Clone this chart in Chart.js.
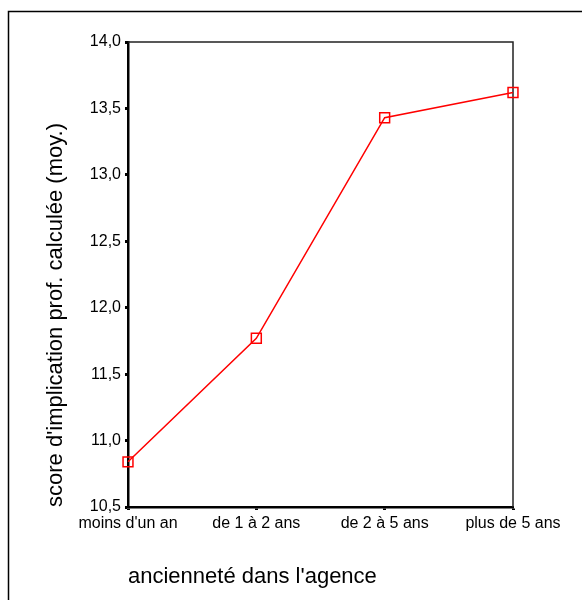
<!DOCTYPE html>
<html>
<head>
<meta charset="utf-8">
<script src="https://cdn.jsdelivr.net/npm/chart.js@4.4.0/dist/chart.umd.min.js"></script>
<style>
  html, body { margin: 0; padding: 0; background: #fff; }
  canvas { display: block; }
</style>
</head>
<body>
<canvas id="chart" width="582" height="600"></canvas>
<script>
const categories = ["moins d'un an", "de 1 à 2 ans", "de 2 à 5 ans", "plus de 5 ans"];
const meanScores = [10.84, 11.77, 13.43, 13.62];
const yTicks = [10.5, 11.0, 11.5, 12.0, 12.5, 13.0, 13.5, 14.0];
const xTitle = "ancienneté dans l'agence";
const yTitle = "score d'implication prof. calculée (moy.)";

const FONT = "'Liberation Sans', Arial, sans-serif";

// outer frame (top + left only) and the top/right edges of the plot box
const framePlugin = {
  id: 'frame',
  beforeDraw(chart) {
    const ctx = chart.ctx;
    ctx.save();
    ctx.fillStyle = '#fff';
    ctx.fillRect(0, 0, chart.width, chart.height);
    ctx.strokeStyle = '#000';
    ctx.lineWidth = 1.5;
    ctx.beginPath();
    ctx.moveTo(8.5, chart.height);
    ctx.lineTo(8.5, 11.5);
    ctx.lineTo(chart.width, 11.5);
    ctx.stroke();
    ctx.restore();
  },
  beforeDatasetsDraw(chart) {
    const a = chart.chartArea;
    const ctx = chart.ctx;
    ctx.save();
    ctx.strokeStyle = '#222';
    ctx.lineWidth = 1.5;
    ctx.beginPath();
    ctx.moveTo(a.left, a.top);
    ctx.lineTo(a.right, a.top);
    ctx.lineTo(a.right, a.bottom);
    ctx.stroke();
    ctx.restore();
  }
};

new Chart(document.getElementById('chart'), {
  type: 'line',
  data: {
    labels: categories,
    datasets: [{
      data: meanScores,
      borderColor: '#ff0000',
      borderWidth: 1.5,
      pointStyle: 'rect',
      pointRadius: 7,
      pointBorderWidth: 1.5,
      pointBorderColor: '#ff0000',
      pointBackgroundColor: 'rgba(0,0,0,0)',
      tension: 0,
      clip: false
    }]
  },
  options: {
    responsive: false,
    animation: false,
    devicePixelRatio: 1,
    layout: { padding: { top: 42, right: 69, left: 38, bottom: 0 } },
    plugins: {
      legend: { display: false },
      tooltip: { enabled: false }
    },
    scales: {
      x: {
        offset: false,
        afterFit: s => { s.height = 93; },
        border: { display: true, color: '#000', width: 2.5 },
        grid: { drawOnChartArea: false, drawTicks: true, tickLength: 3, tickWidth: 3, tickColor: '#000' },
        ticks: { color: '#000', font: { family: FONT, size: 16 }, padding: 4, autoSkip: false, maxRotation: 0 },
        title: { display: true, text: xTitle, align: 'start', color: '#000',
                 font: { family: FONT, size: 22, lineHeight: 1.2 }, padding: { top: 0, bottom: 10 } }
      },
      y: {
        min: yTicks[0],
        max: yTicks[yTicks.length - 1],
        afterFit: s => { s.width = 90; },
        afterBuildTicks: s => { s.ticks = yTicks.map(v => ({ value: v })); },
        border: { display: true, color: '#000', width: 2.5 },
        grid: { drawOnChartArea: false, drawTicks: true, tickLength: 3, tickWidth: 3, tickColor: '#000' },
        ticks: { color: '#000', font: { family: FONT, size: 16 }, padding: 4,
                 callback: v => v.toFixed(1).replace('.', ',') },
        title: { display: true, text: yTitle, align: 'start', color: '#000',
                 font: { family: FONT, size: 22, lineHeight: 1.2 }, padding: { top: 5, bottom: 0 } }
      }
    }
  },
  plugins: [framePlugin]
});
</script>
</body>
</html>
